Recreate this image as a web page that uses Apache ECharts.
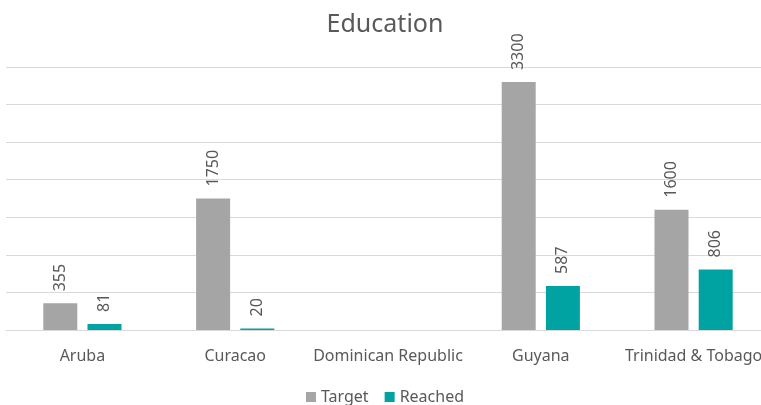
<!DOCTYPE html>
<html>
<head>
<meta charset="utf-8">
<script src="https://cdn.jsdelivr.net/npm/echarts@6/dist/echarts.min.js"></script>
</head>
<body style="margin:0;overflow:hidden">
<div id="main" style="width:770px;height:405px;"></div>
<script>
var categories = ['Aruba', 'Curacao', 'Dominican Republic', 'Guyana', 'Trinidad & Tobago'];
var target = [355, 1750, null, 3300, 1600];
var reached = [81, 20, null, 587, 806];

var font = 'Noto Sans';
var txt = '#595959';

function barLabel() {
    return {
        show: true, position: 'top', rotate: 90, align: 'left', verticalAlign: 'middle',
        distance: 12, color: txt, fontSize: 16, fontFamily: font
    };
}

var chart = echarts.init(document.getElementById('main'));
chart.setOption({
    animation: false,
    title: {
        text: 'Education', left: 'center', top: 7,
        textStyle: {color: txt, fontSize: 25, fontWeight: 'normal', fontFamily: font}
    },
    legend: {
        top: 384, itemWidth: 10, itemHeight: 10, itemGap: 16,
        icon: 'rect',
        textStyle: {color: txt, fontSize: 16, fontFamily: font}
    },
    grid: {left: 6, right: 0, top: 67, bottom: 75},
    xAxis: {
        type: 'category', data: categories,
        axisLine: {lineStyle: {color: '#d9d9d9'}},
        axisTick: {show: false},
        axisLabel: {color: txt, fontSize: 16, fontFamily: font, margin: 18, interval: 0}
    },
    yAxis: {
        type: 'value', min: 0, max: 3500, interval: 500,
        axisLabel: {show: false},
        splitLine: {lineStyle: {color: '#d9d9d9'}}
    },
    series: [
        {name: 'Target', type: 'bar', data: target, barWidth: 34, barGap: '30%',
         itemStyle: {color: '#a5a5a5'}, label: barLabel()},
        {name: 'Reached', type: 'bar', data: reached, barWidth: 34,
         itemStyle: {color: '#00a2a2'}, label: barLabel()}
    ]
});
</script>
</body>
</html>
